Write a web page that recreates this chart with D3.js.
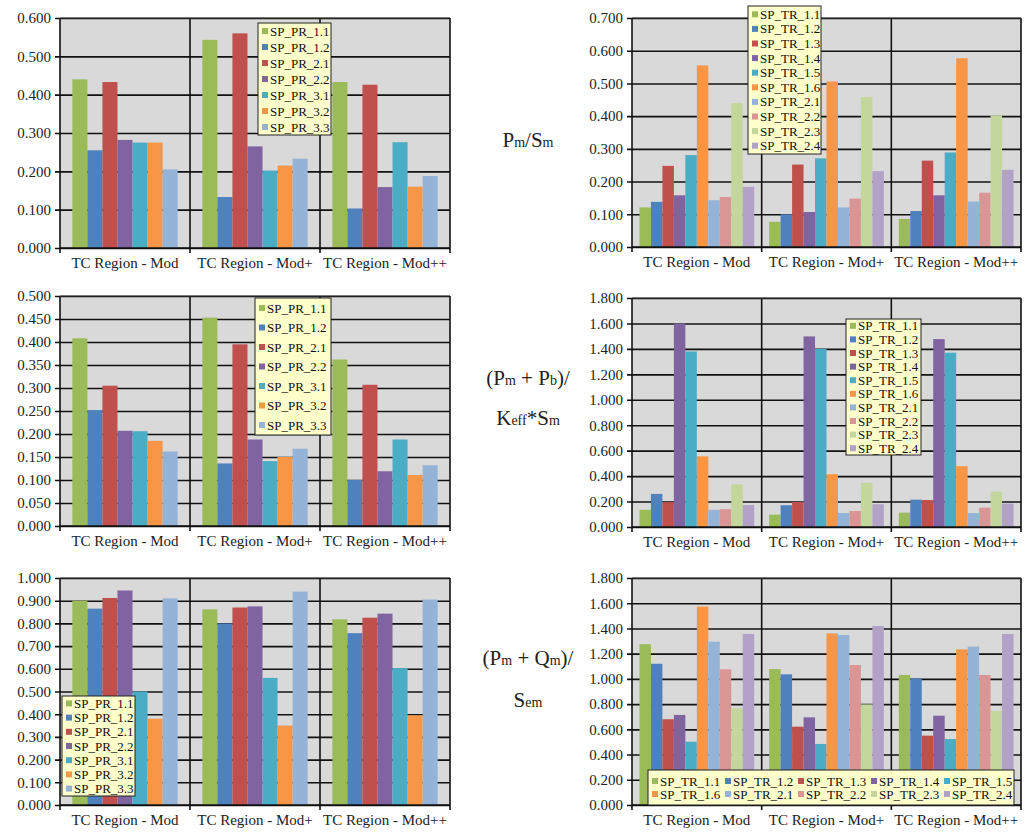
<!DOCTYPE html>
<html><head><meta charset="utf-8">
<script src="https://cdn.jsdelivr.net/npm/d3@7"></script>
<style>
body{margin:0;background:#fff}
svg text{font-family:"Liberation Serif","DejaVu Serif",serif;}
</style>
</head><body><svg id="c" width="1028" height="832"></svg>
<script>
const categories = ["TC Region - Mod", "TC Region - Mod+", "TC Region - Mod++"];
const prSeries = ["SP_PR_1.1","SP_PR_1.2","SP_PR_2.1","SP_PR_2.2","SP_PR_3.1","SP_PR_3.2","SP_PR_3.3"];
const trSeries = ["SP_TR_1.1","SP_TR_1.2","SP_TR_1.3","SP_TR_1.4","SP_TR_1.5","SP_TR_1.6","SP_TR_2.1","SP_TR_2.2","SP_TR_2.3","SP_TR_2.4"];
const prColors = ["#9BBB59","#4F81BD","#C0504D","#8064A2","#4BACC6","#F79646","#95B3D7"];
const trColors = ["#9BBB59","#4F81BD","#C0504D","#8064A2","#4BACC6","#F79646","#95B3D7","#D99694","#C3D69B","#B3A2C7"];

// values per category (Mod, Mod+, Mod++), one entry per series
const pmSmPR = [
  [0.440, 0.255, 0.433, 0.282, 0.275, 0.275, 0.205],
  [0.543, 0.133, 0.560, 0.265, 0.202, 0.215, 0.233],
  [0.433, 0.103, 0.426, 0.159, 0.276, 0.160, 0.188]
];
const pmSmTR = [
  [0.121, 0.138, 0.248, 0.158, 0.281, 0.555, 0.143, 0.153, 0.440, 0.184],
  [0.077, 0.100, 0.252, 0.107, 0.271, 0.506, 0.121, 0.148, 0.458, 0.232],
  [0.086, 0.110, 0.264, 0.158, 0.289, 0.577, 0.139, 0.166, 0.402, 0.236]
];
const pmPbPR = [
  [0.408, 0.252, 0.305, 0.207, 0.206, 0.185, 0.162],
  [0.453, 0.136, 0.395, 0.188, 0.141, 0.150, 0.168],
  [0.362, 0.100, 0.307, 0.119, 0.188, 0.111, 0.132]
];
const pmPbTR = [
  [0.135, 0.260, 0.195, 1.600, 1.380, 0.555, 0.135, 0.140, 0.335, 0.173],
  [0.097, 0.171, 0.197, 1.498, 1.400, 0.415, 0.110, 0.126, 0.347, 0.179],
  [0.113, 0.215, 0.212, 1.477, 1.370, 0.478, 0.110, 0.152, 0.278, 0.184]
];
const pmQmPR = [
  [0.900, 0.865, 0.912, 0.945, 0.500, 0.380, 0.910],
  [0.862, 0.800, 0.870, 0.875, 0.560, 0.350, 0.940],
  [0.818, 0.757, 0.825, 0.843, 0.603, 0.395, 0.905]
];
const pmQmTR = [
  [1.275, 1.120, 0.680, 0.714, 0.502, 1.573, 1.295, 1.076, 0.767, 1.356],
  [1.078, 1.036, 0.621, 0.695, 0.484, 1.361, 1.348, 1.110, 0.798, 1.419],
  [1.031, 1.004, 0.550, 0.708, 0.523, 1.234, 1.256, 1.031, 0.745, 1.356]
];

const svg = d3.select("#c");
const FONT = '"Liberation Serif", "DejaVu Serif", serif';

const panels = [
  {x0:60, x1:450, y0:18, y1:248, max:0.6, step:0.1, series:prSeries, colors:prColors, values:pmSmPR, pad:0.82,
   legend:{x:258, y:23, w:73, h:112, rowH:16}},
  {x0:632, x1:1021, y0:18, y1:247, max:0.7, step:0.1, series:trSeries, colors:trColors, values:pmSmTR, pad:0.65,
   legend:{x:748, y:6, w:73, h:148, rowH:14.6}},
  {x0:60, x1:450, y0:296, y1:526, max:0.5, step:0.05, series:prSeries, colors:prColors, values:pmPbPR, pad:0.82,
   legend:{x:255, y:298, w:76, h:137, rowH:19.5}},
  {x0:632, x1:1021, y0:298, y1:527, max:1.8, step:0.2, series:trSeries, colors:trColors, values:pmPbTR, pad:0.65,
   legend:{x:846, y:319, w:75, h:136, rowH:13.6}},
  {x0:60, x1:450, y0:578, y1:805, max:1.0, step:0.1, series:prSeries, colors:prColors, values:pmQmPR, pad:0.82,
   legend:{x:62, y:696, w:73, h:100, rowH:14.2}},
  {x0:632, x1:1021, y0:578, y1:805, max:1.8, step:0.2, series:trSeries, colors:trColors, values:pmQmTR, pad:0.65,
   legend:{x:648, y:770, w:366, h:35, rowH:13, cols:5, colW:73}}
];

function drawPanel(p) {
  const g = svg.append("g");
  const w = p.x1 - p.x0;
  const x = d3.scaleBand().domain(categories).range([p.x0, p.x1]).padding(0);
  const xi = d3.scaleBand().domain(p.series).range([0, x.bandwidth()]).paddingInner(0).paddingOuter(p.pad);
  const y = d3.scaleLinear().domain([0, p.max]).range([p.y1, p.y0]);
  const ticks = d3.range(0, Math.round(p.max / p.step) + 1).map(i => +(i * p.step).toFixed(3));

  g.append("rect").attr("x", p.x0).attr("y", p.y0).attr("width", w).attr("height", p.y1 - p.y0)
    .attr("fill", "#D9D9D9");

  const ax = g.append("g").attr("transform", `translate(${p.x0},0)`)
    .call(d3.axisLeft(y).tickValues(ticks).tickFormat(d3.format(".3f")).tickSize(-w).tickPadding(9));
  ax.attr("font-family", null);
  ax.select(".domain").remove();
  ax.selectAll(".tick line").attr("x1", -5).attr("stroke", "#111").attr("stroke-width", 1.6);
  ax.selectAll(".tick text").style("font-family", FONT).style("font-size", "15px").attr("fill", "#222");

  // bars
  p.values.forEach((vals, ci) => {
    g.append("g").selectAll("rect").data(vals).join("rect")
      .attr("x", (d, j) => x(categories[ci]) + xi(p.series[j]))
      .attr("y", d => y(d))
      .attr("width", xi.bandwidth())
      .attr("height", d => y(0) - y(d))
      .attr("fill", (d, j) => p.colors[j]);
  });

  // category separators and frame
  const bounds = categories.map(c => x(c)).concat([p.x1]);
  g.selectAll(".sep").data(bounds).join("line")
    .attr("x1", d => d).attr("x2", d => d).attr("y1", p.y0).attr("y2", p.y1 + 5)
    .attr("stroke", "#111").attr("stroke-width", 1.6);
  g.append("line").attr("x1", p.x0).attr("x2", p.x1).attr("y1", p.y1).attr("y2", p.y1)
    .attr("stroke", "#111").attr("stroke-width", 1.6);
  g.append("line").attr("x1", p.x0).attr("x2", p.x1).attr("y1", p.y0).attr("y2", p.y0)
    .attr("stroke", "#333").attr("stroke-width", 1.2);

  g.selectAll(".cat").data(categories).join("text")
    .attr("x", d => x(d) + x.bandwidth() / 2).attr("y", p.y1 + 20)
    .attr("text-anchor", "middle").style("font-family", FONT).style("font-size", "15px").attr("fill", "#222")
    .text(d => d);

  // legend
  const L = p.legend;
  const lg = g.append("g");
  lg.append("rect").attr("x", L.x).attr("y", L.y).attr("width", L.w).attr("height", L.h)
    .attr("fill", "#FFFFCC").attr("stroke", "#222").attr("stroke-width", 1);
  const cols = L.cols || 1;
  const colW = L.colW || 0;
  const rows = Math.ceil(p.series.length / cols);
  const topPad = (L.h - rows * L.rowH) / 2;
  const items = lg.selectAll(".it").data(p.series).join("g")
    .attr("transform", (d, i) => {
      const c = i % cols, r = Math.floor(i / cols);
      return `translate(${L.x + 4 + c * colW},${L.y + topPad + r * L.rowH + L.rowH / 2})`;
    });
  items.append("rect").attr("x", 0).attr("y", -3).attr("width", 6).attr("height", 6)
    .attr("fill", (d, i) => p.colors[i]);
  items.append("text").attr("x", 8).attr("y", 4.5).style("font-family", FONT).style("font-size", "13px")
    .attr("fill", "#111").text(d => d);
}

panels.forEach(drawPanel);

// middle formula labels
const labels = [
  {y:147, parts:[["P",21],["m",14],["/S",21],["m",14]]},
  {y:385, parts:[["(P",21],["m",14],[" + P",21],["b",14],[")/",21]]},
  {y:425, parts:[["K",21],["eff",14],["*S",21],["m",14]]},
  {y:665, parts:[["(P",21],["m",14],[" + Q",21],["m",14],[")/",21]]},
  {y:707, parts:[["S",21],["em",14]]}
];
labels.forEach(l => {
  const t = svg.append("text").attr("x", 528).attr("y", l.y).attr("text-anchor", "middle")
    .style("font-family", FONT).attr("fill", "#222");
  t.selectAll("tspan").data(l.parts).join("tspan").style("font-size", d => d[1] + "px").text(d => d[0]);
});
</script>
</body></html>
